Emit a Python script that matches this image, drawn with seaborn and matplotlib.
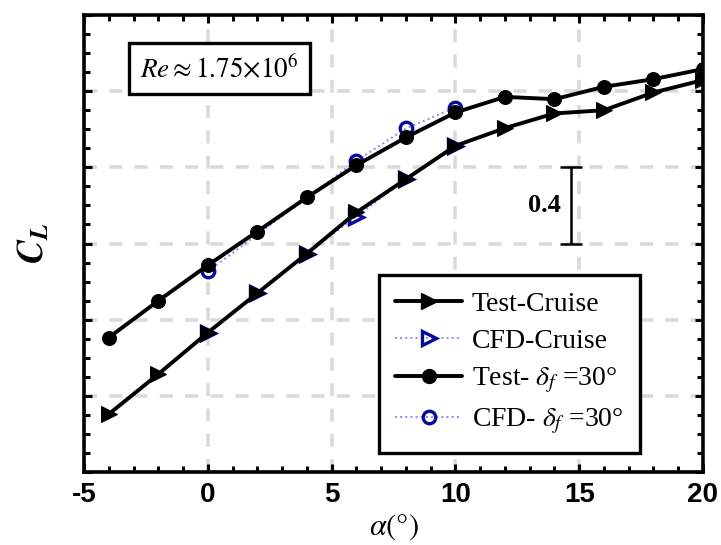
import numpy as np
import pandas as pd
import matplotlib
matplotlib.use("Agg")
import matplotlib.pyplot as plt
from matplotlib.ticker import MultipleLocator
from matplotlib.lines import Line2D
import seaborn as sns

# ---- data ----
alpha_test = [-4, -2, 0, 2, 4, 6, 8, 10, 12, 14, 16, 18, 20]
cl_test_cruise = [-0.096, 0.114, 0.332, 0.539, 0.747, 0.963, 1.138, 1.313, 1.406, 1.483, 1.500, 1.593, 1.658]
cl_test_flap = [0.306, 0.499, 0.686, 0.863, 1.042, 1.211, 1.357, 1.488, 1.570, 1.558, 1.623, 1.663, 1.716]

alpha_cfd_cruise = [0, 2, 4, 6, 8, 10]
cl_cfd_cruise = [0.332, 0.539, 0.747, 0.941, 1.138, 1.313]
alpha_cfd_flap = [0, 6, 8, 10]
cl_cfd_flap = [0.653, 1.234, 1.404, 1.514]

labels = ["Test-Cruise", "CFD-Cruise", r"Test- $\delta_f$ =30°", r"CFD- $\delta_f$ =30°"]
x_ticks = [-5, 0, 5, 10, 15, 20]
scale_bar_x = 14.66
scale_bar_y = (0.8, 1.2)
scale_bar_label = "0.4"
re_text = r"$\mathit{Re}\approx\mathrm{1.75{\times}10^{6}}$"

# ---- style ----
sns.set_theme(style="white")
plt.rcParams["font.family"] = ["Liberation Sans", "DejaVu Sans"]
plt.rcParams["mathtext.fontset"] = "stix"
plt.rcParams["axes.unicode_minus"] = False
plt.rcParams["xtick.direction"] = "in"
plt.rcParams["ytick.direction"] = "in"
for k in ["text.color", "axes.labelcolor", "xtick.color", "ytick.color", "xtick.labelcolor", "ytick.labelcolor"]:
    plt.rcParams[k] = "black"

fig = plt.figure(figsize=(7.21, 5.45), dpi=100)
ax = fig.add_axes([84 / 721, 1 - 472 / 545, (703 - 84) / 721, (472 - 15) / 545])

navy = "#0a0a9a"
dotc = "#8c8cf0"

# CFD first (underneath)
sns.lineplot(x=alpha_cfd_cruise, y=cl_cfd_cruise, ax=ax, color=dotc, linestyle=":",
             linewidth=1.4, marker=">", markersize=10, markerfacecolor="none",
             markeredgecolor=navy, markeredgewidth=2.4, sort=False, zorder=3)
sns.lineplot(x=alpha_cfd_flap, y=cl_cfd_flap, ax=ax, color=dotc, linestyle=":",
             linewidth=1.4, marker="o", markersize=9, markerfacecolor="none",
             markeredgecolor=navy, markeredgewidth=2.4, sort=False, zorder=3)
sns.lineplot(x=alpha_test, y=cl_test_cruise, ax=ax, color="black", linewidth=2.8,
             marker=">", markersize=11, markeredgecolor="black", sort=False, zorder=4)
sns.lineplot(x=alpha_test, y=cl_test_flap, ax=ax, color="black", linewidth=2.8,
             marker="o", markersize=10, markeredgecolor="black", sort=False, zorder=4)

ax.set_xlim(-5, 20)
ax.set_ylim(-0.4, 2.0)
ax.set_xticks(x_ticks)
ax.xaxis.set_minor_locator(MultipleLocator(1))
ax.yaxis.set_major_locator(MultipleLocator(0.4))
ax.yaxis.set_minor_locator(MultipleLocator(0.1))
ax.set_yticklabels([])
ax.tick_params(which="both", top=True, right=True, left=True, bottom=True,
               width=2.2, color="black")
ax.tick_params(which="major", length=6, pad=7)
ax.tick_params(which="minor", length=4.5)
for lab in ax.get_xticklabels():
    lab.set_fontweight("bold")
    lab.set_fontsize(20)
    lab.set_color("black")
for sp in ax.spines.values():
    sp.set_linewidth(2.6)
    sp.set_color("black")

ax.grid(True, which="major", color="#dadada", linestyle=(0, (3.6, 3.4)), linewidth=2.6)
ax.set_axisbelow(True)

ax.set_xlabel(r"$\mathit{\alpha}\mathrm{(°)}$", fontsize=22, labelpad=3, color="black")
ax.set_ylabel(r"$\mathbfit{C_L}$", fontsize=26, labelpad=16, color="black")

# Re box
ax.text(0.219, 0.883, re_text, transform=ax.transAxes, fontsize=19.5, ha="center", va="center",
        color="black",
        bbox=dict(boxstyle="square,pad=0.42", facecolor="white", edgecolor="black", linewidth=2.4),
        zorder=6)

# scale bar
ax.errorbar([scale_bar_x], [np.mean(scale_bar_y)], yerr=[[np.diff(scale_bar_y)[0] / 2]],
            color="black", capsize=8, capthick=1.8, elinewidth=1.8, fmt="none", zorder=5)
ax.text(scale_bar_x - 0.4, np.mean(scale_bar_y), scale_bar_label, fontsize=19,
        fontweight="bold", family="Liberation Serif", ha="right", va="center", color="black")

# legend
handles = [
    Line2D([], [], color="black", linewidth=2.8, marker=">", markersize=11),
    Line2D([], [], color=dotc, linestyle=":", linewidth=1.4, marker=">", markersize=10,
           markerfacecolor="none", markeredgecolor=navy, markeredgewidth=2.4),
    Line2D([], [], color="black", linewidth=2.8, marker="o", markersize=10),
    Line2D([], [], color=dotc, linestyle=":", linewidth=1.4, marker="o", markersize=9,
           markerfacecolor="none", markeredgecolor=navy, markeredgewidth=2.4),
]
leg = ax.legend(handles, labels, loc="lower right", bbox_to_anchor=(0.898, 0.042),
                borderaxespad=0,
                prop={"family": "Liberation Serif", "size": 20}, frameon=True,
                fancybox=False, edgecolor="black", framealpha=1, handlelength=2.4,
                handletextpad=0.35, labelspacing=0.42, borderpad=0.6)
leg.get_frame().set_linewidth(2.4)
leg.set_zorder(7)
for t in leg.get_texts():
    t.set_color("black")

fig.savefig("out.png", dpi=100)
